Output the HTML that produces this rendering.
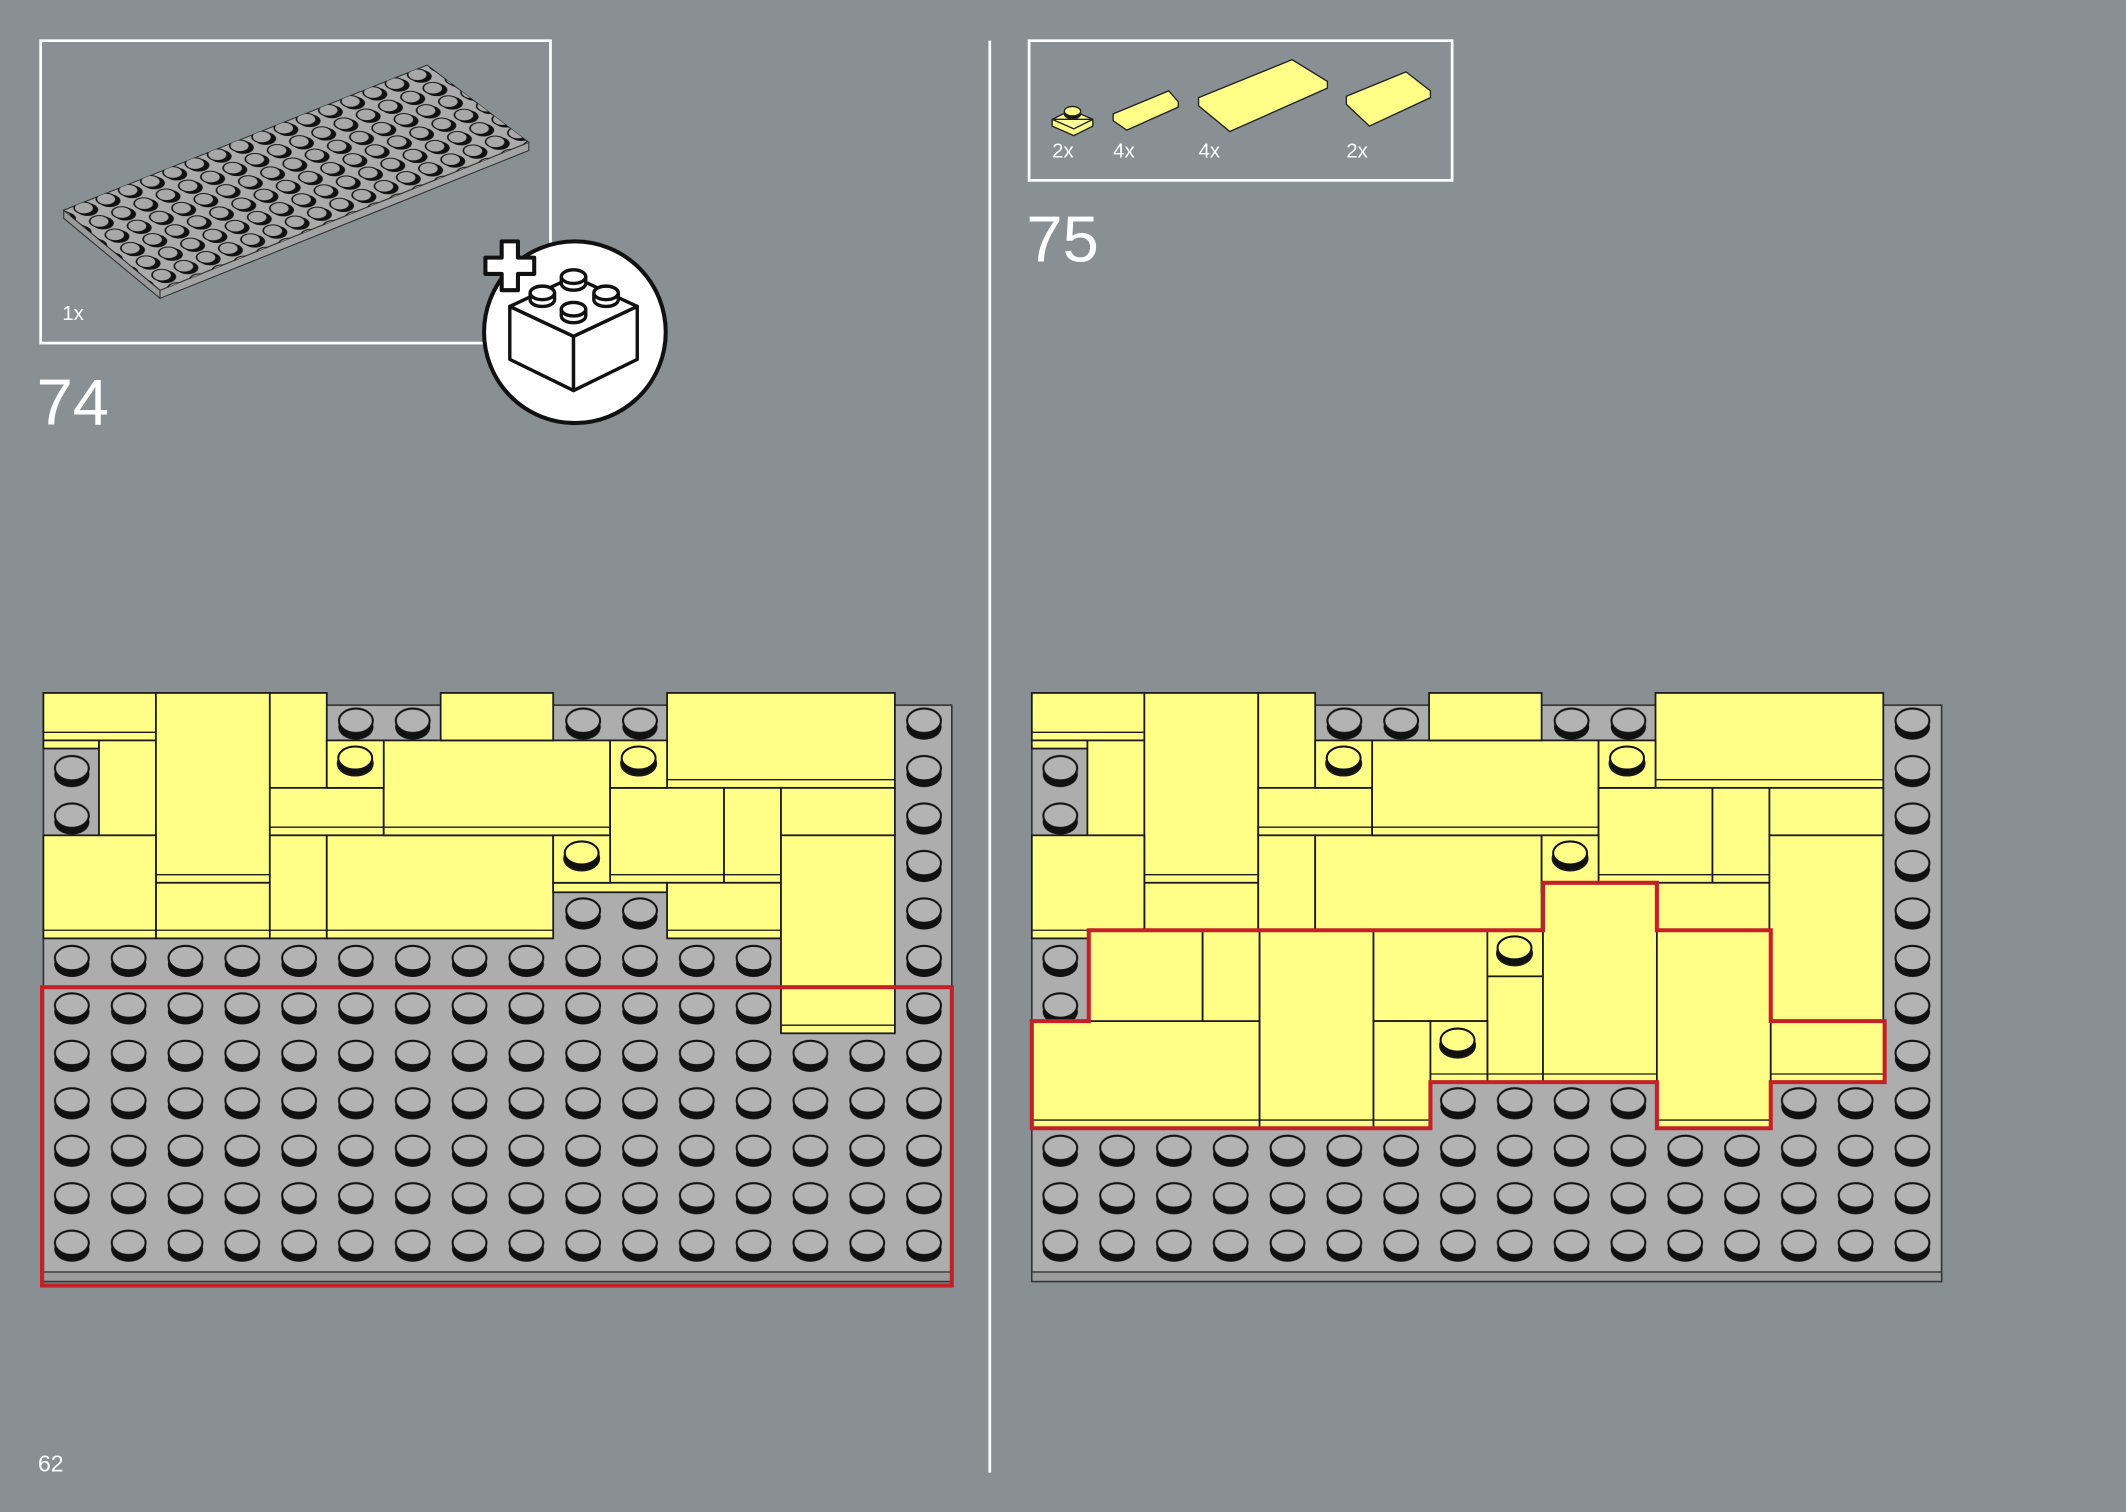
<!DOCTYPE html>
<html><head><meta charset="utf-8"><style>
html,body{margin:0;padding:0;background:#899094;}
svg{display:block}
text{font-family:"Liberation Sans",sans-serif;fill:#fff}
</style></head><body>
<svg width="2126" height="1512" viewBox="0 0 1568 1115" preserveAspectRatio="none" xmlns="http://www.w3.org/2000/svg">
<defs>
 <pattern id="studs" patternUnits="userSpaceOnUse" x="32" y="516" width="41.9" height="35">
  <ellipse cx="21" cy="20" rx="13" ry="9.5" fill="#111"/>
  <ellipse cx="21" cy="15.5" rx="12.5" ry="9" fill="#b3b3b3" stroke="#111" stroke-width="1.5"/>
 </pattern>
 <pattern id="studs2" patternUnits="userSpaceOnUse" x="761" y="516" width="41.9" height="35">
  <ellipse cx="21" cy="20" rx="13" ry="9.5" fill="#111"/>
  <ellipse cx="21" cy="15.5" rx="12.5" ry="9" fill="#b3b3b3" stroke="#111" stroke-width="1.5"/>
 </pattern>
 <pattern id="isostuds" patternUnits="userSpaceOnUse" width="1" height="1" patternTransform="matrix(16.4,-6.55,11.5,9.9,49,152)">
  <circle cx="0.52" cy="0.6" r="0.4" fill="#111"/>
  <circle cx="0.47" cy="0.45" r="0.36" fill="#a8a8a8" stroke="#111" stroke-width="0.06"/>
 </pattern>
 <g id="ystud">
  <ellipse cx="0" cy="3" rx="13" ry="9" fill="#111"/>
  <ellipse cx="0" cy="-1" rx="12.5" ry="8.5" fill="#ffff88" stroke="#111" stroke-width="1.5"/>
 </g>
 <g id="bstud">
  <ellipse cx="0" cy="5" rx="9" ry="5"/><rect x="-9" y="0" width="18" height="5" stroke="none"/>
  <line x1="-9" y1="0" x2="-9" y2="5"/><line x1="9" y1="0" x2="9" y2="5"/>
  <ellipse cx="0" cy="0" rx="9" ry="5"/>
 </g>
 <g id="tilesL" fill="#ffff88" stroke="#1a1a1a" stroke-width="1.3">
  <rect x="32" y="511" width="83" height="35"/>
  <rect x="32" y="546" width="41" height="6"/>
  <rect x="73" y="546" width="42" height="70"/>
  <rect x="115" y="511" width="84" height="140"/>
  <rect x="115" y="651" width="84" height="41"/>
  <rect x="199" y="511" width="42" height="70"/>
  <rect x="199" y="581" width="84" height="35"/>
  <rect x="199" y="616" width="42" height="76"/>
  <rect x="241" y="616" width="167" height="76"/>
  <rect x="283" y="546" width="167" height="70"/>
  <rect x="325" y="511" width="83" height="35"/>
  <rect x="492" y="511" width="168" height="70"/>
  <rect x="450" y="581" width="84" height="70"/>
  <rect x="534" y="581" width="42" height="70"/>
  <rect x="576" y="581" width="84" height="35"/>
  <rect x="32" y="616" width="83" height="76"/>
  <rect x="408" y="651" width="84" height="7"/>
  <rect x="492" y="651" width="84" height="41"/>
  <rect x="576" y="616" width="84" height="146"/>
  <rect x="241" y="546" width="42" height="35"/>
  <rect x="450" y="546" width="42" height="35"/>
  <rect x="408" y="616" width="42" height="35"/>
  <g fill="none" stroke-width="1">
   <line x1="32" y1="540" x2="115" y2="540"/>
   <line x1="115" y1="645" x2="199" y2="645"/>
   <line x1="115" y1="686" x2="199" y2="686"/>
   <line x1="32" y1="686" x2="115" y2="686"/>
   <line x1="241" y1="686" x2="408" y2="686"/>
   <line x1="199" y1="686" x2="241" y2="686"/>
   <line x1="492" y1="686" x2="576" y2="686"/>
   <line x1="576" y1="756" x2="660" y2="756"/>
   <line x1="199" y1="610" x2="283" y2="610"/>
   <line x1="283" y1="610" x2="450" y2="610"/>
   <line x1="450" y1="645" x2="576" y2="645"/>
   <line x1="492" y1="575" x2="660" y2="575"/>
  </g>
  <use href="#ystud" x="262" y="560"/>
  <use href="#ystud" x="471" y="560"/>
  <use href="#ystud" x="429" y="630"/>
 </g>
</defs>

<rect width="1568" height="1115" fill="#899094"/>

<line x1="730" y1="30" x2="730" y2="1086" stroke="#fff" stroke-width="2"/>

<!-- step 74 parts box -->
<rect x="30" y="30" width="376" height="223" fill="none" stroke="#fff" stroke-width="2"/>
<polygon points="47,155 118,214 118,220 47,161" fill="#9a9a9a" stroke="#333" stroke-width="0.8"/>
<polygon points="118,214 390,105 390,111 118,220" fill="#a3a3a3" stroke="#333" stroke-width="0.8"/>
<polygon points="47,155 315,48 390,105 118,214" fill="#ababab" stroke="#333" stroke-width="0.8"/>
<polygon points="47,155 315,48 390,105 118,214" fill="url(#isostuds)"/>
<text x="46" y="236" font-size="15">1x</text>
<text x="27" y="313" font-size="48">74</text>

<!-- new part icon -->
<circle cx="424" cy="245" r="67" fill="#fff" stroke="#111" stroke-width="3"/>
<path d="M372,178 h12 v12 h12 v12 h-12 v12 h-12 v-12 h-12 v-12 h12 z" fill="#fff" stroke="#111" stroke-width="3" stroke-linejoin="round" transform="translate(-2,0)"/>
<g fill="#fff" stroke="#111" stroke-width="2.5" stroke-linejoin="round">
 <polygon points="376,226 423,248 423,288 376,265"/>
 <polygon points="423,248 470,226 470,265 423,288"/>
 <polygon points="376,226 423,204 470,226 423,248"/>
 <use href="#bstud" x="423" y="204"/>
 <use href="#bstud" x="400" y="216"/>
 <use href="#bstud" x="447" y="216"/>
 <use href="#bstud" x="423" y="228"/>
</g>

<!-- step 75 parts box -->
<rect x="759" y="30" width="312" height="103" fill="none" stroke="#fff" stroke-width="2"/>
<g fill="#ffff88" stroke="#222" stroke-width="1">
 <polygon points="776,88 790,81 806,88 806,93 792,100 776,93"/>
 <polygon points="776,88 792,95 806,88" fill="#ffff99"/>
 <ellipse cx="791" cy="84" rx="6" ry="3.5" fill="#111"/>
 <ellipse cx="791" cy="82" rx="6" ry="3.5"/>
 <polygon points="821,84 862,67 869,75 869,79 831,96 821,89"/>
 <polygon points="884,72 953,44 979,60 979,65 907,97 884,78"/>
 <polygon points="993,71 1037,53 1055,67 1055,72 1010,93 993,77"/>
</g>
<text x="776" y="116" font-size="15">2x</text>
<text x="821" y="116" font-size="15">4x</text>
<text x="884" y="116" font-size="15">4x</text>
<text x="993" y="116" font-size="15">2x</text>
<text x="757" y="193" font-size="48">75</text>

<!-- left build -->
<rect x="32" y="520" width="670" height="425" fill="#adadad" stroke="#333" stroke-width="1.2"/>
<rect x="32" y="938" width="670" height="7" fill="#9c9c9c" stroke="#333" stroke-width="1"/>
<rect x="32" y="516" width="670" height="420" fill="url(#studs)"/>
<use href="#tilesL"/>
<rect x="31" y="728" width="671" height="220" fill="none" stroke="#c42027" stroke-width="3"/>

<!-- right build -->
<rect x="761" y="520" width="671" height="425" fill="#adadad" stroke="#333" stroke-width="1.2"/>
<rect x="761" y="938" width="671" height="7" fill="#9c9c9c" stroke="#333" stroke-width="1"/>
<rect x="761" y="516" width="671" height="420" fill="url(#studs2)"/>
<use href="#tilesL" transform="translate(729,0)"/>
<g fill="#ffff88" stroke="#1a1a1a" stroke-width="1.3">
 <rect x="761" y="753" width="168" height="79"/>
 <rect x="803" y="686" width="84" height="67"/>
 <rect x="887" y="686" width="42" height="67"/>
 <rect x="929" y="686" width="84" height="146"/>
 <rect x="1013" y="686" width="84" height="67"/>
 <rect x="1013" y="753" width="42" height="79"/>
 <rect x="1097" y="686" width="41" height="34"/>
 <rect x="1097" y="720" width="41" height="78"/>
 <rect x="1055" y="753" width="42" height="45"/>
 <rect x="1138" y="651" width="84" height="147"/>
 <rect x="1222" y="686" width="84" height="146"/>
 <rect x="1306" y="753" width="84" height="45"/>
 <g stroke-width="1">
  <line x1="761" y1="826" x2="1055" y2="826"/>
  <line x1="1222" y1="826" x2="1306" y2="826"/>
  <line x1="1055" y1="792" x2="1222" y2="792"/>
  <line x1="1306" y1="792" x2="1390" y2="792"/>
 </g>
 <use href="#ystud" x="1117" y="700"/>
 <use href="#ystud" x="1075" y="768"/>
</g>
<polygon points="761,753 803,753 803,686 1138,686 1138,651 1222,651 1222,686 1306,686 1306,753 1390,753 1390,798 1306,798 1306,832 1222,832 1222,798 1055,798 1055,832 761,832" fill="none" stroke="#c42027" stroke-width="3"/>

<text x="28" y="1085" font-size="17">62</text>
</svg>
</body></html>
